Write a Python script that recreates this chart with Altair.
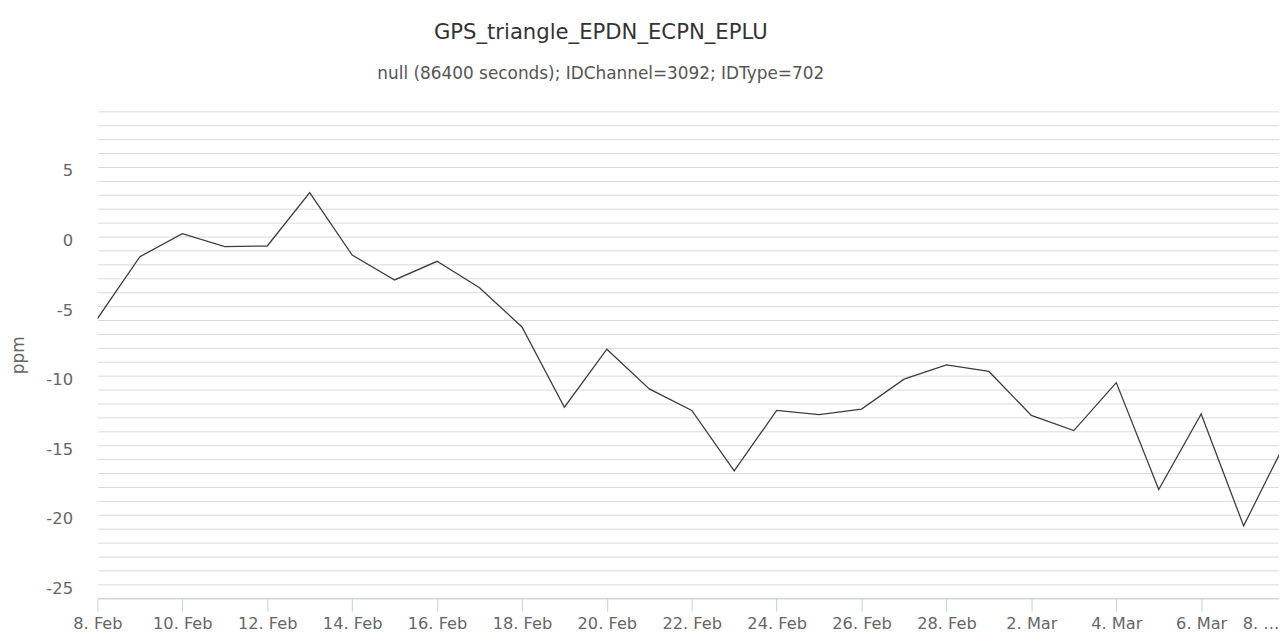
import altair as alt
import pandas as pd

# ---- data ----
dates = [
    "2015-02-08", "2015-02-09", "2015-02-10", "2015-02-11", "2015-02-12",
    "2015-02-13", "2015-02-14", "2015-02-15", "2015-02-16", "2015-02-17",
    "2015-02-18", "2015-02-19", "2015-02-20", "2015-02-21", "2015-02-22",
    "2015-02-23", "2015-02-24", "2015-02-25", "2015-02-26", "2015-02-27",
    "2015-02-28", "2015-03-01", "2015-03-02", "2015-03-03", "2015-03-04",
    "2015-03-05", "2015-03-06", "2015-03-07", "2015-03-08",
]
values = [
    -5.9, -1.45, 0.2, -0.72, -0.68,
    3.15, -1.33, -3.12, -1.78, -3.68,
    -6.5, -12.27, -8.1, -10.95, -12.5,
    -16.85, -12.5, -12.8, -12.4, -10.25,
    -9.23, -9.7, -12.86, -13.95, -10.5,
    -18.18, -12.75, -20.8, -14.7,
]

title_text = "GPS_triangle_EPDN_ECPN_EPLU"
subtitle_text = "null (86400 seconds); IDChannel=3092; IDType=702"
y_title = "ppm"
y_grid_values = list(range(-26, 10))
x_tick_days = [(2, 8), (2, 10), (2, 12), (2, 14), (2, 16), (2, 18), (2, 20),
               (2, 22), (2, 24), (2, 26), (2, 28), (3, 2), (3, 4), (3, 6)]
x_last_label = "8. …"

df = pd.DataFrame({"date": [d + "T00:00:00" for d in dates], "value": values})

tick_values = [alt.DateTime(year=2015, month=m, date=d) for m, d in x_tick_days]
tick_values.append(alt.DateTime(year=2015, month=3, date=7, hours=20))

FONT = "DejaVu Sans"
is_last = "hours(datum.value) == 20"

x_axis = alt.Axis(
    values=tick_values,
    format="%-d. %b",
    labelExpr=f"{is_last} ? '{x_last_label}' : datum.label",
    labelAlign={"condition": {"test": is_last, "value": "right"}, "value": "center"},
    tickOpacity={"condition": {"test": is_last, "value": 0}, "value": 1},
    grid=False,
    domainColor="#C0D0E0",
    tickColor="#C0D0E0",
    tickSize=13,
    labelPadding=4,
    labelFont=FONT,
    labelFontSize=16.3,
    labelColor="#666666",
    labelOverlap=False,
    labelFlush=False,
    labelBound=False,
    title=None,
)

y_axis = alt.Axis(
    values=y_grid_values,
    labelExpr="datum.value % 5 == 0 ? '' + datum.value : ''",
    ticks=False,
    domain=False,
    domainOpacity=0,
    gridColor="#dadada",
    gridWidth=1,
    labelPadding=25,
    labelOffset=4,
    labelFont=FONT,
    labelFontSize=16.5,
    labelColor="#666666",
    title=y_title,
    titleFont=FONT,
    titleFontSize=17,
    titleFontWeight="normal",
    titleColor="#666666",
    titlePadding=18,
)

chart = (
    alt.Chart(df)
    .mark_line(color="#3d3d3d", strokeWidth=1.3, clip=True)
    .encode(
        x=alt.X(
            "date:T",
            scale=alt.Scale(
                domain=[alt.DateTime(year=2015, month=2, date=8),
                        alt.DateTime(year=2015, month=3, date=7, hours=20)],
                nice=False,
            ),
            axis=x_axis,
        ),
        y=alt.Y(
            "value:Q",
            scale=alt.Scale(domain=[-26, 9], nice=False, zero=False),
            axis=y_axis,
        ),
    )
    .properties(
        width=1189,
        height=490,
        autosize=alt.AutoSizeParams(type="none"),
        padding={"left": 90, "top": 102, "right": 0, "bottom": 32},
        view=alt.ViewBackground(strokeWidth=0, strokeOpacity=0),
        title=alt.TitleParams(
            text=title_text,
            subtitle=subtitle_text,
            anchor="middle",
            dx=-88,
            font=FONT,
            fontSize=21.3,
            fontWeight="normal",
            color="#333333",
            subtitleFont=FONT,
            subtitleFontSize=17,
            subtitleColor="#555555",
            subtitlePadding=22,
            offset=30,
        ),
    )
    .configure_view(strokeWidth=0, strokeOpacity=0)
    .configure_axisY(domain=False)
    .configure(background="white")
)

chart.save("out.html", embed_options={"renderer": "svg", "actions": False})
